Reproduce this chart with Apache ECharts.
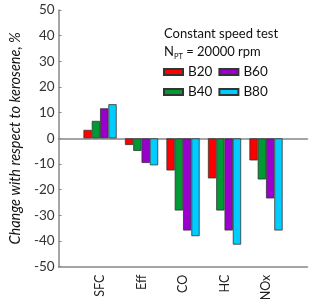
<!DOCTYPE html>
<html>
<head>
<meta charset="utf-8">
<script src="https://cdn.jsdelivr.net/npm/echarts@6/dist/echarts.min.js"></script>
<style>html,body{margin:0;padding:0;background:#fff;}#c{width:320px;height:305px;}</style>
</head>
<body>
<div id="c"></div>
<script>
const categories = ['', 'SFC', 'Eff', 'CO', 'HC', 'NOx', ''];
const B20 = ['-', 3.3, -2.6, -12.5, -15.6, -8.6, '-'];
const B40 = ['-', 6.8, -4.9, -28.1, -28.1, -16.0, '-'];
const B60 = ['-', 11.7, -9.6, -35.9, -35.9, -23.4, '-'];
const B80 = ['-', 13.3, -10.5, -38.1, -41.4, -35.9, '-'];
const legendOrder = ['B20', 'B60', 'B40', 'B80'];
const yTicks = { min: -50, max: 50, interval: 10 };

const FONT = 'Lato';
const chart = echarts.init(document.getElementById('c'), null, { renderer: 'canvas' });
const mk = (name, data, color) => ({
  name, type: 'bar', data, xAxisIndex: 0, yAxisIndex: 0,
  barGap: 0, barCategoryGap: '20%',
  itemStyle: { color, borderColor: '#333', borderWidth: 0.8 }
});
chart.setOption({
  animation: false,
  textStyle: { fontFamily: FONT },
  title: {
    left: 159, top: 20,
    text: '{a|Constant speed test}\n{a|N}{sub|PT}{a| = 20000 rpm}',
    textStyle: {
      fontFamily: FONT, fontSize: 13, fontWeight: 'normal', color: '#111',
      rich: {
        a: { fontFamily: FONT, fontSize: 13, color: '#111', lineHeight: 18 },
        sub: { fontFamily: FONT, fontSize: 7.5, color: '#111', lineHeight: 9, verticalAlign: 'bottom' }
      }
    }
  },
  legend: {
    data: legendOrder, left: 158, top: 60, width: 110,
    itemWidth: 19, itemHeight: 6, itemGap: 6, icon: 'rect',
    textStyle: { fontFamily: FONT, fontSize: 13.5, color: '#111' }
  },
  grid: { left: 52.5, right: 12.5, top: 10, bottom: 38.3, containLabel: false },
  xAxis: [
    {
      type: 'category', data: categories, boundaryGap: false, position: 'bottom',
      axisLine: { onZero: false, lineStyle: { color: '#888', width: 1.5 } },
      axisTick: { show: false },
      axisLabel: { rotate: 90, interval: 0, margin: 8, fontSize: 12.5, color: '#222', fontFamily: FONT },
      splitLine: { show: false }
    },
    {
      type: 'category', data: categories, boundaryGap: false, position: 'top',
      axisLine: { onZero: true, lineStyle: { color: '#888', width: 1.5 } },
      axisTick: { show: false }, axisLabel: { show: false }, splitLine: { show: false }
    }
  ],
  yAxis: {
    type: 'value', min: yTicks.min, max: yTicks.max, interval: yTicks.interval,
    name: 'Change with respect to kerosene, %', nameLocation: 'middle', nameGap: 33,
    nameTextStyle: { fontFamily: FONT, fontSize: 14.5, fontStyle: 'italic', color: '#111' },
    axisLine: { show: true, onZero: false, lineStyle: { color: '#888', width: 1.5 } },
    axisTick: { show: true, inside: true, length: 3, lineStyle: { color: '#888' } },
    axisLabel: { fontSize: 13.5, color: '#333', margin: 4, fontFamily: FONT },
    splitLine: { show: false }
  },
  series: [
    mk('B20', B20, '#ff0000'),
    mk('B40', B40, '#009933'),
    mk('B60', B60, '#9900cc'),
    mk('B80', B80, '#00ccff')
  ]
});
</script>
</body>
</html>
